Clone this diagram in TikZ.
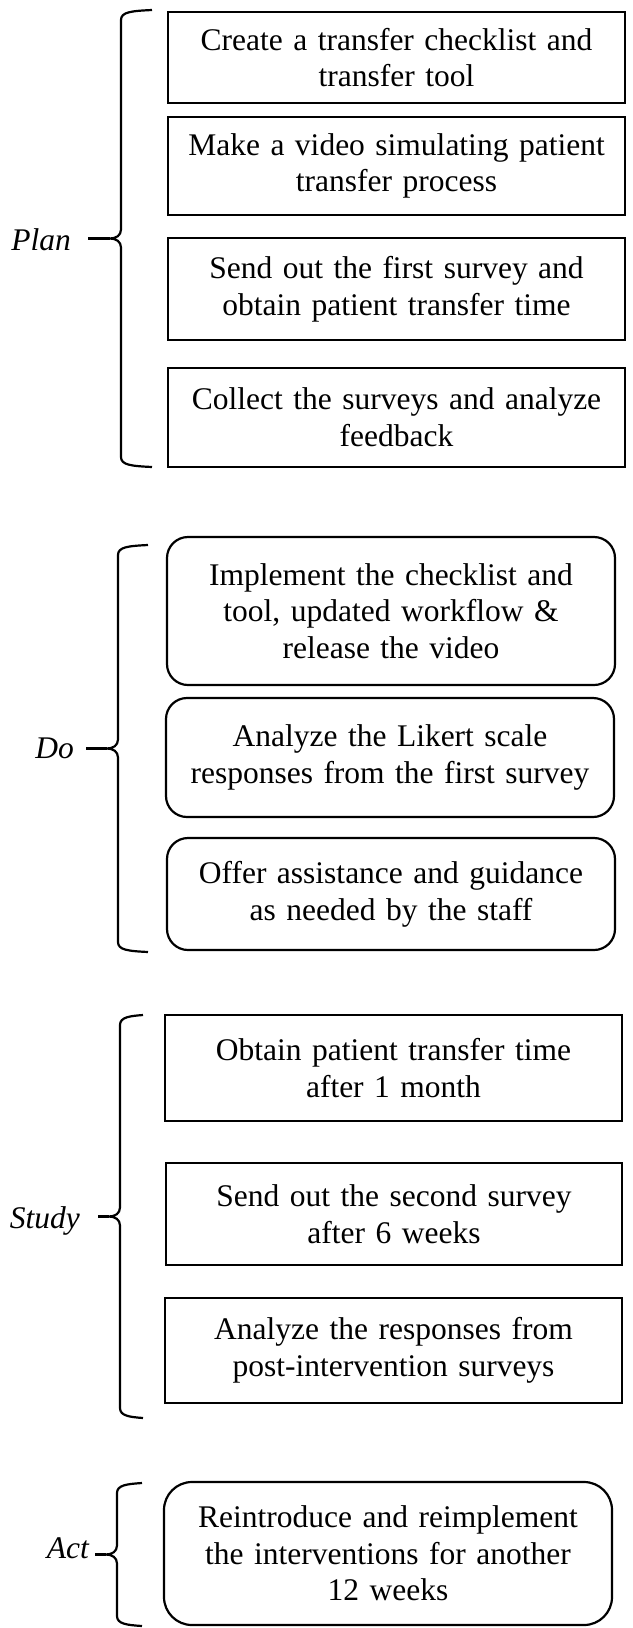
\documentclass[tikz,border=0pt]{standalone}
\usepackage{fontspec}
\setmainfont{Liberation Serif}

% curly bracket grouping the steps of one phase
% #1 name, #2 x of the spine, #3 top y, #4 bottom y, #5 x of the tip, #6 x of the ends
\newcommand{\phasebrace}[6]{%
  \pgfmathsetmacro{\bracemid}{(#3+#4)/2}%
  \coordinate (#1-tip) at (#5,\bracemid);
  \coordinate (#1-join) at (#2-11,\bracemid);
  \draw[bracket] (#6,#3) .. controls (#2+10,#3+1) and (#2,#3+2) .. (#2,#3+10)
     -- (#2,\bracemid-9) .. controls (#2,\bracemid-3) and (#2-5,\bracemid) .. (#1-join)
     .. controls (#2-5,\bracemid) and (#2,\bracemid+3) .. (#2,\bracemid+9)
     -- (#2,#4-10) .. controls (#2,#4-2) and (#2+10,#4-1) .. (#6,#4);
  \draw[bracket] (#1-join) -- (#1-tip);
}

\begin{document}
\begin{tikzpicture}[x=1pt,y=-1pt,
  txt/.style={font=\fontsize{31.5}{36.7}\selectfont},
  stepbox/.style={txt, draw, line width=2.2pt, inner sep=0pt, align=center},
  roundbox/.style={stepbox, rounded corners=21pt},
  phase/.style={font=\fontsize{31.5}{36.7}\selectfont\itshape, inner sep=0pt, anchor=base east},
  bracket/.style={line width=2.2pt, line join=round, line cap=butt}]

\useasboundingbox (0,0) rectangle (632,1628);

% ---------------- Plan ----------------
\node[stepbox, text width=457pt, minimum height=91pt] (p1) at (396.5,57.5)
  {Create a transfer checklist and\\transfer tool};
\node[stepbox, text width=457pt, minimum height=98pt] (p2) at (396.5,166)
  {Make a video simulating patient\\transfer process};
\node[stepbox, text width=457pt, minimum height=102pt] (p3) at (396.5,289)
  {Send out the first survey and\\obtain patient transfer time};
\node[stepbox, text width=457pt, minimum height=99pt] (p4) at (396.5,417.5)
  {Collect the surveys and analyze\\feedback};
\phasebrace{pb}{121}{10}{467}{88}{152}
\node[phase] (plan) at (71,250) {Plan};

% ---------------- Do ----------------
\node[roundbox, text width=448pt, minimum height=148pt] (d1) at (391,611)
  {Implement the checklist and\\tool, updated workflow \&\\release the video};
\node[roundbox, text width=448pt, minimum height=119pt] (d2) at (390,757.5)
  {Analyze the Likert scale\\responses from the first survey};
\node[roundbox, text width=448pt, minimum height=112pt] (d3) at (391,894)
  {Offer assistance and guidance\\as needed by the staff};
\phasebrace{db}{118}{545}{952}{86}{148}
\node[phase] (do) at (74,758) {Do};

% ---------------- Study ----------------
\node[stepbox, text width=457pt, minimum height=106pt] (s1) at (393.5,1068)
  {Obtain patient transfer time\\after 1 month};
\node[stepbox, text width=456pt, minimum height=102pt] (s2) at (394,1214)
  {Send out the second survey\\after 6 weeks};
\node[stepbox, text width=457pt, minimum height=105pt] (s3) at (393.5,1350.5)
  {Analyze the responses from\\post-intervention surveys};
\phasebrace{sb}{120}{1015}{1418}{98}{143}
\node[phase] (study) at (80,1228) {Study};

% ---------------- Act ----------------
\node[stepbox, rounded corners=28pt, text width=448pt, minimum height=143pt] (a1) at (388,1553.5)
  {Reintroduce and reimplement\\the interventions for another\\12 weeks};
\phasebrace{ab}{117}{1483}{1626}{95}{142}
\node[phase] (act) at (89,1558) {Act};

\end{tikzpicture}
\end{document}
